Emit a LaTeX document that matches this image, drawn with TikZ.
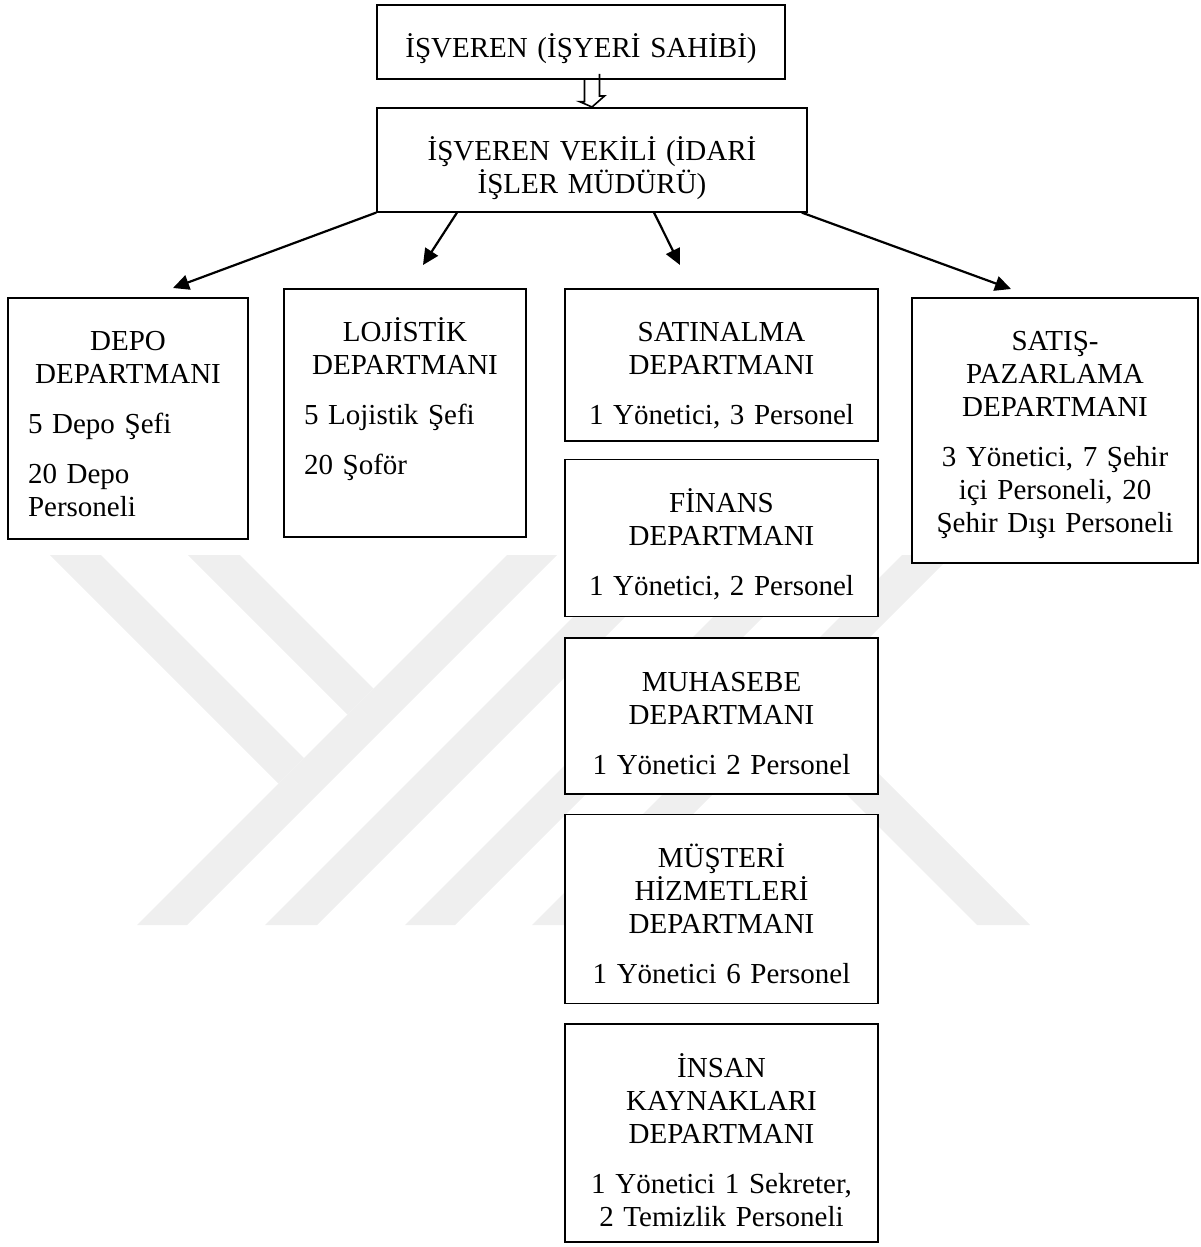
\documentclass[tikz,border=0pt]{standalone}
\usepackage{fontspec}
\setmainfont{Liberation Serif}
\usepackage{tikz}
\usetikzlibrary{arrows.meta,positioning}
\definecolor{wmgray}{RGB}{239,239,239}

\tikzset{
  box/.style={draw,rectangle,line width=0.8pt,fill=white,anchor=north,inner xsep=10pt,inner ysep=0pt,
    text height=26.5pt,font=\fontsize{14.5pt}{16.5pt}\selectfont},
  arr/.style={-{Triangle[length=8pt,width=7.5pt]},line width=1.1pt},
  hollow/.style={line width=0.8pt,line join=miter},
  wm/.style={fill=wmgray,draw=none}
}

\begin{document}
\begin{tikzpicture}[x=0.5pt, y=-0.5pt, node distance=9pt]
  \useasboundingbox (0,0) rectangle (1200,1247);
  % Watermark
  \fill[wm] (50,555) -- (101,555) -- (304,758) -- (278.5,783.5) -- cycle;
  \fill[wm] (188,555) -- (240,555) -- (373.5,688.5) -- (347.5,714.5) -- cycle;
  \fill[wm] (507,555) -- (557,555) -- (187,925) -- (137,925) -- cycle;
  \fill[wm] (635,555) -- (687,555) -- (317,925) -- (265,925) -- cycle;
  \fill[wm] (775,555) -- (825,555) -- (455,925) -- (405,925) -- cycle;
  \fill[wm] (902,555) -- (952,555) -- (582,925) -- (532,925) -- cycle;
  \fill[wm] (754.5,702.5) -- (806,701) -- (1030,925) -- (977,925) -- cycle;

  % Top
  \node[box,align=center,text width=184pt,text depth=10.5pt] (boss) at (581,4) {İŞVEREN (İŞYERİ SAHİBİ)};
  \node[box,align=center,text width=195pt,text depth=25.5pt] (vekil) at (592,107) {İŞVEREN VEKİLİ (İDARİ\\İŞLER MÜDÜRÜ)};

  % Departments
  \node[box,align=left,text width=100pt,text depth=94pt] (depo) at (128,297)
    {{\centering DEPO\\DEPARTMANI\par}\vspace{8.5pt}5 Depo Şefi\par\vspace{8.5pt}20 Depo\\Personeli};
  \node[box,align=left,text width=101pt,text depth=97.5pt] (lojistik) at (405,288)
    {{\centering LOJİSTİK\\DEPARTMANI\par}\vspace{8.5pt}5 Lojistik Şefi\par\vspace{8.5pt}20 Şoför};
  \node[box,align=center,text width=136.5pt,text depth=49.5pt] (satin) at (721.5,288)
    {SATINALMA\\DEPARTMANI\\[8.5pt]1 Yönetici, 3 Personel};
  \node[box,align=center,text width=136.5pt,text depth=52pt,below=8.5pt of satin] (finans)
    {FİNANS\\DEPARTMANI\\[8.5pt]1 Yönetici, 2 Personel};
  \node[box,align=center,text width=136.5pt,text depth=51.5pt,below=10pt of finans] (muhasebe)
    {MUHASEBE\\DEPARTMANI\\[8.5pt]1 Yönetici 2 Personel};
  \node[box,align=center,text width=136.5pt,text depth=68pt,below=9.5pt of muhasebe] (musteri)
    {MÜŞTERİ\\HİZMETLERİ\\DEPARTMANI\\[8.5pt]1 Yönetici 6 Personel};
  \node[box,align=center,text width=136.5pt,text depth=82.5pt,below=9.5pt of musteri] (insan)
    {İNSAN\\KAYNAKLARI\\DEPARTMANI\\[8.5pt]1 Yönetici 1 Sekreter,\\2 Temizlik Personeli};
  \node[box,align=center,text width=123pt,text depth=106pt] (satis) at (1055,297)
    {SATIŞ-\\PAZARLAMA\\DEPARTMANI\\[8.5pt]3 Yönetici, 7 Şehir\\içi Personeli, 20\\Şehir Dışı Personeli};

  % Arrows
  \coordinate (dtop) at (vekil.north |- boss.south);
  \draw[hollow] (dtop) +(-7.5,0) -- +(-7.5,22) -- +(-12.5,22) -- (vekil.north) -- +(12.5,-11) -- +(7.5,-11) -- +(7.5,-33);

  \coordinate (t1) at (173,288);
  \coordinate (t2) at (423,265);
  \coordinate (t3) at (680,265);
  \coordinate (t4) at (1011,289);
  \draw[arr] (vekil.south west) -- (t1);
  \draw[arr] ([xshift=-67.5pt]vekil.south) -- (t2);
  \draw[arr] ([xshift=31pt]vekil.south) -- (t3);
  \draw[arr] ([xshift=-3pt]vekil.south east) -- (t4);
\end{tikzpicture}
\end{document}
